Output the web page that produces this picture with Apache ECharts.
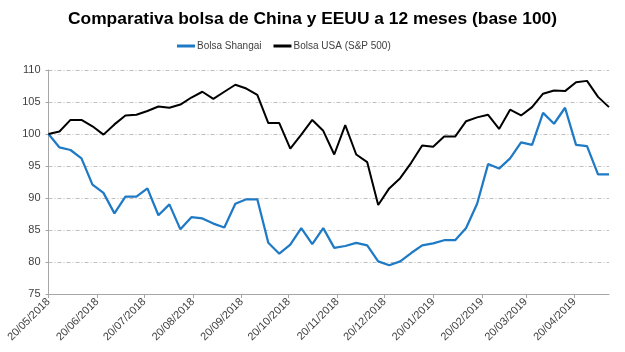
<!DOCTYPE html>
<html>
<head>
<meta charset="utf-8">
<script src="https://cdn.jsdelivr.net/npm/echarts@6/dist/echarts.min.js"></script>
<style>html,body{margin:0;padding:0;background:#fff}#c{width:625px;height:352px}</style>
</head>
<body>
<div id="c"></div>
<script>
const dates = [
  '2018-05-20','2018-05-27','2018-06-03','2018-06-10','2018-06-17','2018-06-24',
  '2018-07-01','2018-07-08','2018-07-15','2018-07-22','2018-07-29','2018-08-05',
  '2018-08-12','2018-08-19','2018-08-26','2018-09-02','2018-09-09','2018-09-16',
  '2018-09-23','2018-09-30','2018-10-07','2018-10-14','2018-10-21','2018-10-28',
  '2018-11-04','2018-11-11','2018-11-18','2018-11-25','2018-12-02','2018-12-09',
  '2018-12-16','2018-12-23','2018-12-30','2019-01-06','2019-01-13','2019-01-20',
  '2019-01-27','2019-02-03','2019-02-10','2019-02-17','2019-02-24','2019-03-03',
  '2019-03-10','2019-03-17','2019-03-24','2019-03-31','2019-04-07','2019-04-14',
  '2019-04-21','2019-04-28','2019-05-05','2019-05-12'
];
const shanghai = [
  100, 97.9, 97.5, 96.2, 92.1, 90.8, 87.6, 90.2, 90.2, 91.5, 87.3, 89.0,
  85.1, 87.0, 86.8, 86.0, 85.4, 89.1, 89.8, 89.8, 83.0, 81.3, 82.7, 85.3,
  82.8, 85.3, 82.2, 82.5, 83.0, 82.6, 80.1, 79.5, 80.1, 81.4, 82.6, 82.9,
  83.4, 83.4, 85.3, 89.1, 95.3, 94.6, 96.2, 98.7, 98.3, 103.3, 101.6, 104.1,
  98.3, 98.1, 93.7, 93.7
];
const usa = [
  100, 100.4, 102.2, 102.2, 101.2, 99.9, 101.5, 102.9, 103.0, 103.6, 104.3, 104.1,
  104.6, 105.7, 106.6, 105.5, 106.6, 107.7, 107.1, 106.1, 101.7, 101.7, 97.7, 99.9,
  102.2, 100.5, 96.8, 101.4, 96.8, 95.6, 88.9, 91.5, 93.1, 95.5, 98.2, 98.0,
  99.6, 99.6, 102.0, 102.6, 103.0, 100.8, 103.8, 102.9, 104.2, 106.3, 106.8, 106.7,
  108.1, 108.3, 105.8, 104.2
];
const tickDates = [
  '2018-05-20','2018-06-20','2018-07-20','2018-08-20','2018-09-20','2018-10-20',
  '2018-11-20','2018-12-20','2019-01-20','2019-02-20','2019-03-20','2019-04-20'
];
const seriesNames = ['Bolsa Shangai', 'Bolsa USA (S&P 500)'];
const titleText = 'Comparativa bolsa de China y EEUU a 12 meses (base 100)';

const DAY = 86400000;
const ts = s => { const p = s.split('-').map(Number); return Date.UTC(p[0], p[1]-1, p[2]) / DAY; };
const pad = n => (n < 10 ? '0' : '') + n;
const fmt = v => { const d = new Date(Math.round(v) * DAY); return pad(d.getUTCDate()) + '/' + pad(d.getUTCMonth()+1) + '/' + d.getUTCFullYear(); };
const tickTs = tickDates.map(ts);

const chart = echarts.init(document.getElementById('c'), null, {renderer: 'canvas'});
chart.setOption({
  animation: false,
  backgroundColor: '#fff',
  textStyle: {fontFamily: 'Liberation Sans'},
  title: {
    text: titleText, left: 'center', top: 6,
    textStyle: {fontSize: 17.4, fontWeight: 'bold', color: '#000', fontFamily: 'Liberation Sans'}
  },
  legend: {
    top: 36, left: 172, itemWidth: 18, itemHeight: 3, itemGap: 12, icon: 'rect',
    textStyle: {fontSize: 10, color: '#404040', padding: [0, 0, 0, -3]},
    data: seriesNames
  },
  grid: {left: 48.5, right: 16, top: 70, bottom: 58, containLabel: false},
  xAxis: {
    type: 'value',
    min: ts(dates[0]), max: ts(dates[dates.length-1]),
    splitLine: {show: false},
    axisLine: {lineStyle: {color: '#a6a6a6', width: 1}},
    axisTick: {show: true, length: 4, lineStyle: {color: '#a6a6a6'}, customValues: tickTs},
    axisLabel: {
      customValues: tickTs, rotate: 45, fontSize: 11, color: '#404040', margin: 6,
      formatter: v => fmt(v), hideOverlap: false
    }
  },
  yAxis: {
    type: 'value', min: 75, max: 110, interval: 5,
    axisLine: {show: true, lineStyle: {color: '#a6a6a6'}},
    axisTick: {show: true, length: 3, lineStyle: {color: '#a6a6a6'}},
    axisLabel: {fontSize: 11, color: '#404040', margin: 8},
    splitLine: {lineStyle: {color: '#bfbfbf', type: [4, 2, 1, 2], width: 1}}
  },
  series: [
    {name: seriesNames[0], type: 'line', showSymbol: false, symbol: 'none',
     data: dates.map((d, i) => [ts(d), shanghai[i]]),
     itemStyle: {color: '#1f7ac6'}, lineStyle: {color: '#1f7ac6', width: 2.25}},
    {name: seriesNames[1], type: 'line', showSymbol: false, symbol: 'none',
     data: dates.map((d, i) => [ts(d), usa[i]]),
     itemStyle: {color: '#000'}, lineStyle: {color: '#000', width: 2}}
  ]
});
</script>
</body>
</html>
